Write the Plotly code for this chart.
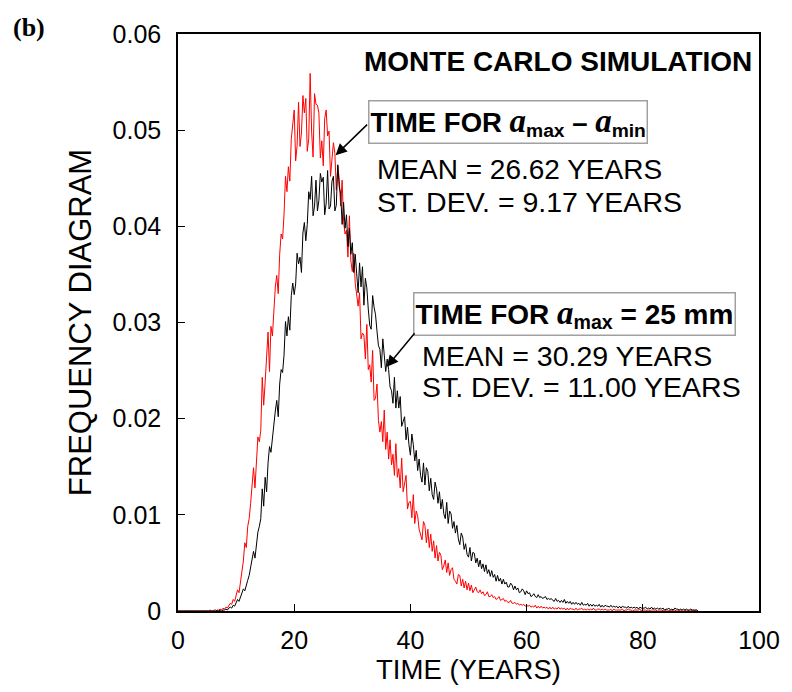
import numpy as np
import plotly.graph_objects as go

# Frequency values, in units of 1e-4, one row per year (0.25-year bins)
STEP = 0.25  # years per bin
red_e4 = [
    0, 0, 0, 0,  0, 0, 0, 0,  0, 0, 0, 0,  0, 0, 0, 0,  0, 0, 0, 0,
    0, 0, 1, 0,
    0, 1, 1, 0,
    1, 2, 1, 3,
    2, 4, 3, 6,
    8, 7, 12, 10,
    17, 22, 19, 30,
    45, 52, 71, 66,
    88, 96, 112, 131,
    149, 128, 162, 181,
    176, 188, 243, 214,
    238, 271, 290, 249,
    296, 286, 318, 337,
    349, 330, 371, 392,
    387, 412, 452, 436,
    462, 447, 491, 503,
    521, 468, 484, 529,
    483, 497, 536, 518,
    533, 478, 491, 559,
    498, 472, 538, 527,
    526, 518, 471, 489,
    463, 512, 521, 494,
    499, 452, 471, 487,
    476, 438, 463, 449,
    421, 448, 405, 392,
    396, 368, 411, 364,
    353, 372, 341, 329,
    317, 331, 283, 289,
    287, 262, 298, 251,
    256, 238, 271, 219,
    221, 236, 198, 186,
    197, 176, 209, 168,
    186, 158, 178, 152,
    163, 141, 174, 139,
    148, 128, 159, 124,
    132, 141, 106, 113,
    114, 97, 121, 91,
    104, 99, 85, 80,
    74, 93, 89, 71,
    85, 66, 80, 62,
    73, 55, 68, 52,
    61, 58, 43, 47,
    53, 40, 50, 37,
    43, 45, 33, 31,
    28, 38, 37, 26,
    33, 24, 31, 22,
    29, 21, 27, 19,
    23, 25, 20, 19,
    22, 18, 20, 16,
    17, 20, 15, 15,
    17, 14, 15, 12,
    13, 15, 11, 12,
    13, 10, 11, 9,
    9, 11, 8, 8,
    9, 7, 8, 6,
    7, 6, 7, 5,
    6, 5, 6, 4,
    5, 4, 6, 3,
    5, 3, 5, 3,
    4, 3, 4, 2,
    4, 2, 4, 2,
    3, 2, 4, 2,
    3, 2, 3, 1,
    3, 1, 3, 2,
    2, 1, 3, 1,
    2, 2, 3, 1,
    2, 1, 2, 1,
    2, 1, 3, 1,
    1, 2, 2, 1,
    2, 1, 2, 1,
    1, 1, 2, 0,
    2, 1, 1, 1,
    1, 1, 2, 0,
    1, 1, 2, 1,
    1, 0, 1, 1,
    1, 1, 2, 0,
    1, 1, 1, 0,
    1, 0, 1, 1,
    1, 1, 0, 1,
    1, 0, 1, 0,
    1, 1, 0, 1,
    0, 1, 1, 0,
    1, 0, 1, 0,
    0, 1, 0, 1,
    0, 1, 0, 1,
    0, 1, 0,
]

black_e4 = [
    0, 0, 0, 0,  0, 0, 0, 0,  0, 0, 0, 0,  0, 0, 0, 0,  0, 0, 0, 0,
    0, 0, 0, 0,
    0, 0, 0, 1,
    0, 1, 0, 1,
    1, 2, 1, 3,
    4, 3, 6, 5,
    9, 12, 10, 15,
    19, 23, 21, 28,
    32, 37, 45, 52,
    62, 55, 71, 82,
    88, 96, 127, 109,
    139, 124, 154, 171,
    165, 181, 194, 208,
    219, 202, 236, 251,
    248, 266, 301, 286,
    306, 292, 328, 341,
    329, 340, 372, 361,
    368, 352, 393, 404,
    385, 402, 436, 428,
    452, 411, 421, 448,
    416, 427, 455, 446,
    451, 412, 424, 458,
    418, 421, 447, 452,
    416, 422, 464, 441,
    434, 402, 425, 398,
    412, 379, 398, 371,
    383, 352, 371, 349,
    331, 362, 337, 358,
    318, 346, 336, 314,
    297, 293, 328, 316,
    308, 291, 276, 272,
    253, 283, 269, 249,
    262, 251, 233, 229,
    216, 243, 211, 229,
    211, 223, 192, 196,
    202, 178, 191, 173,
    162, 184, 173, 156,
    167, 146, 158, 141,
    134, 154, 131, 149,
    145, 125, 138, 121,
    116, 134, 127, 112,
    124, 106, 116, 101,
    96, 113, 91, 104,
    101, 86, 93, 81,
    89, 75, 69, 81,
    77, 64, 70, 59,
    56, 66, 52, 61,
    60, 50, 55, 46,
    53, 44, 49, 41,
    48, 39, 43, 36,
    42, 35, 38, 31,
    37, 31, 34, 28,
    33, 28, 30, 25,
    25, 29, 27, 22,
    26, 22, 24, 19,
    20, 23, 21, 17,
    21, 18, 19, 15,
    16, 18, 15, 14,
    17, 14, 15, 13,
    14, 15, 12, 13,
    12, 13, 11, 10,
    13, 10, 11, 9,
    11, 9, 12, 8,
    10, 8, 10, 7,
    9, 7, 9, 7,
    8, 6, 9, 6,
    7, 6, 8, 5,
    7, 5, 7, 5,
    6, 5, 7, 4,
    6, 4, 6, 5,
    5, 4, 6, 4,
    5, 4, 5, 3,
    5, 3, 5, 4,
    4, 3, 5, 3,
    4, 3, 4, 3,
    4, 2, 4, 3,
    3, 3, 4, 2,
    3, 2, 4, 2,
    3, 2, 3, 2,
    3, 2, 3, 1,
    2, 2, 3, 1,
    2, 1, 3, 2,
    2, 1, 2, 1,
    2, 1, 2, 1,
    1, 2, 1, 1,
    1, 1, 0,
]

x_ticks = [0, 20, 40, 60, 80, 100]
y_ticks = [0, 0.01, 0.02, 0.03, 0.04, 0.05, 0.06]

red = np.array(red_e4) * 1e-4
black = np.array(black_e4) * 1e-4
t_red = np.arange(len(red)) * STEP
t_black = np.arange(len(black)) * STEP

SANS = "Liberation Sans, Arial, sans-serif"
SERIF = "Liberation Serif, Times New Roman, serif"

fig = go.Figure()
fig.add_trace(go.Scatter(x=t_red, y=red, mode="lines",
                         line=dict(color="#ff0000", width=1), showlegend=False))
fig.add_trace(go.Scatter(x=t_black, y=black, mode="lines",
                         line=dict(color="#000000", width=1), showlegend=False))

# page offset of the figure inside the browser (default body margin)
OFF = 8
L, R, T, B = 178, 763, 29, 612      # plot area on screen
W, H = 792 - OFF, 692 - OFF


def px(x):
    return (x - L) / (R - L)


def py(y):
    return (B - y) / (B - T)


def text_ann(xp, yp, text, size=28, xanchor="left", **kw):
    return dict(xref="paper", yref="paper", x=px(xp), y=py(yp), text=text,
                showarrow=False, xanchor=xanchor, yanchor="middle",
                font=dict(family=SANS, size=size, color="black"), **kw)


a_it = "<span style='font-family:Liberation Serif;font-size:33px'><b><i>a</i></b></span>"
box1 = f"<b>TIME FOR </b>{a_it}<sub><b>max</b></sub><b> – </b>{a_it}<sub><b>min</b></sub>"
box2 = f"<b>TIME FOR </b>{a_it}<sub><b>max</b></sub><b> = 25 mm</b>"

annotations = [
    text_ann(758, 57, "<b>MONTE CARLO SIMULATION</b>", size=28, xanchor="right"),
    text_ann(369, 118, box1, size=27.5, bordercolor="#a0a0a0", borderwidth=1.5, borderpad=1),
    text_ann(376, 166, "MEAN = 26.62 YEARS"),
    text_ann(376, 199, "ST. DEV. = 9.17 YEARS", size=28.5),
    text_ann(415, 312, box2, size=28, bordercolor="#a0a0a0", borderwidth=1.5, borderpad=1),
    text_ann(422, 354, "MEAN = 30.29 YEARS", size=28.5),
    text_ann(422, 386, "ST. DEV. = 11.00 YEARS", size=28.5),
    dict(xref="paper", yref="paper", x=px(10), y=py(22), text="<b>(b)</b>", showarrow=False,
         xanchor="left", yanchor="middle", font=dict(family=SERIF, size=26, color="black")),
    dict(x=27.13, y=0.0474, xref="x", yref="y", text="", showarrow=True,
         ax=33, ay=-32, arrowhead=2, arrowsize=1.5, arrowwidth=1.5, arrowcolor="black"),
    dict(x=35.95, y=0.0254, xref="x", yref="y", text="", showarrow=True,
         ax=29, ay=-35, arrowhead=2, arrowsize=1.5, arrowwidth=1.5, arrowcolor="black"),
]

fig.update_layout(
    width=W, height=H,
    margin=dict(l=L - OFF, r=792 - R, t=T - OFF, b=692 - B),
    paper_bgcolor="white", plot_bgcolor="white",
    font=dict(family=SANS, color="black"),
    annotations=annotations,
)
fig.update_xaxes(range=[0, 100], tickvals=x_ticks, ticktext=[str(v) for v in x_ticks],
                 ticks="inside", ticklen=7, tickwidth=1, tickcolor="black",
                 showline=True, linecolor="black", linewidth=1.5, mirror=True,
                 showgrid=False, zeroline=False, tickfont=dict(size=25),
                 ticklabelstandoff=6,
                 title=dict(text="TIME (YEARS)", font=dict(size=27.5), standoff=7))
fig.update_yaxes(range=[0, 0.06], tickvals=y_ticks,
                 ticktext=["0" if v == 0 else f"{v:.2f}" for v in y_ticks],
                 ticks="inside", ticklen=7, tickwidth=1, tickcolor="black",
                 showline=True, linecolor="black", linewidth=1.5, mirror=True,
                 showgrid=False, zeroline=False, tickfont=dict(size=25),
                 ticklabelstandoff=10,
                 title=dict(text="FREQUENCY DIAGRAM", font=dict(size=31), standoff=12))

fig.write_html("out.html")
